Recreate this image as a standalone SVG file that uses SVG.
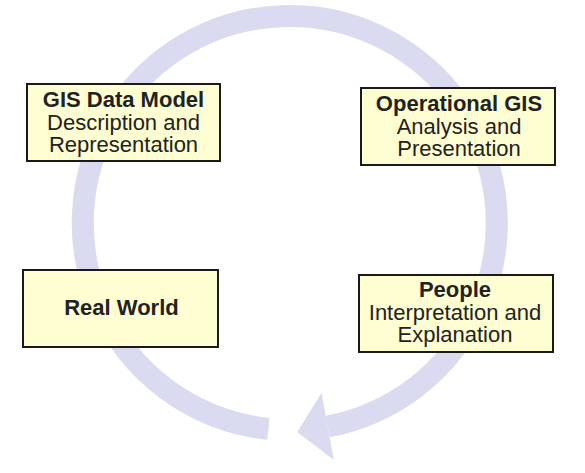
<svg xmlns="http://www.w3.org/2000/svg" width="585" height="473" viewBox="0 0 585 473">
<style>
.box{fill:#fefed2;stroke:#1a1a1a;stroke-width:2}
.t{font-family:"Liberation Sans",Arial,sans-serif;font-size:22px;fill:#222;text-anchor:middle}
.b{font-weight:bold}
.ring{fill:none;stroke:#dadaf0;stroke-width:22}
.head{fill:#dadaf0}
</style>
<rect width="585" height="473" fill="#ffffff"/>
<g id="connectors">
<path class="ring" d="M 268.4 428.9 A 207 207 0 1 1 327.7 426.5"/>
<polygon class="head" points="321.5,393.1 297.2,432.1 333.9,459.9"/>
</g>
<g id="gis-data-model">
<rect class="box" x="27" y="84" width="193" height="77"/>
<text class="t b" x="123.5" y="107">GIS Data Model</text>
<text class="t" x="123.5" y="129.5">Description and</text>
<text class="t" x="123.5" y="152">Representation</text>
</g>
<g id="operational-gis">
<rect class="box" x="361" y="88" width="194" height="77"/>
<text class="t b" x="459" y="111">Operational GIS</text>
<text class="t" x="459" y="133.5">Analysis and</text>
<text class="t" x="459" y="156">Presentation</text>
</g>
<g id="real-world">
<rect class="box" x="23" y="270" width="195" height="77"/>
<text class="t b" x="121.5" y="315">Real World</text>
</g>
<g id="people">
<rect class="box" x="359" y="275" width="194" height="77"/>
<text class="t b" x="455" y="297">People</text>
<text class="t" x="455" y="319.5">Interpretation and</text>
<text class="t" x="455" y="342">Explanation</text>
</g>
</svg>
